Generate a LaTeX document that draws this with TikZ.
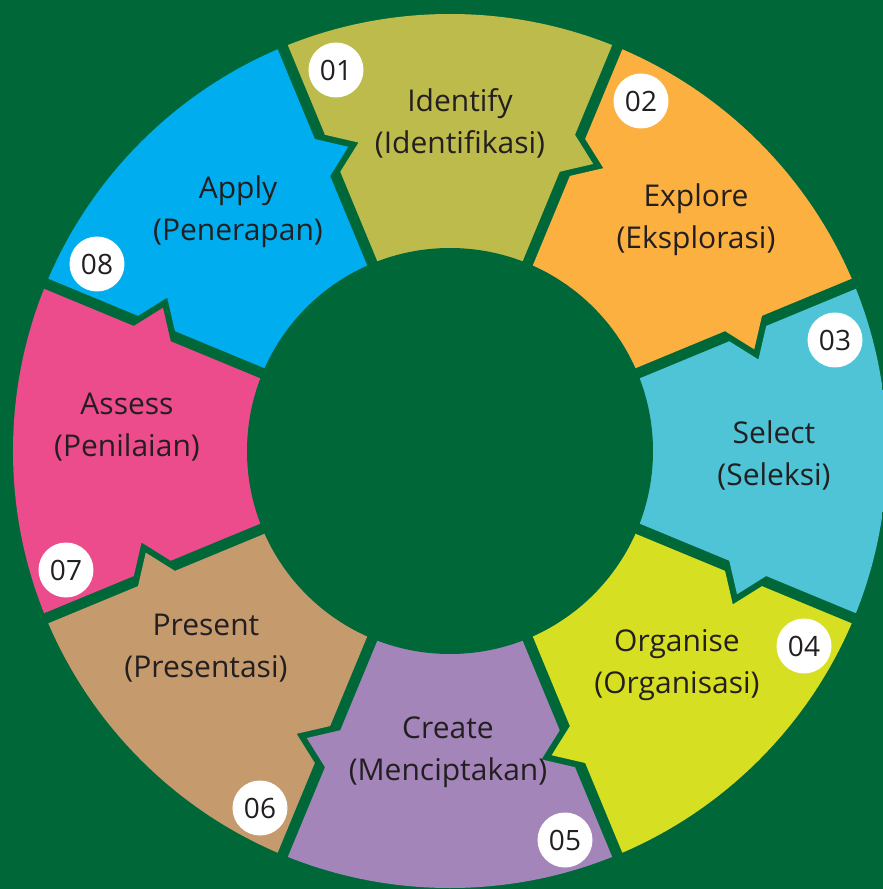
\documentclass[tikz,border=0pt]{standalone}
\usepackage{fontspec}
\setmainfont{Open Sans}
\definecolor{bg}{HTML}{006838}
\definecolor{c1}{HTML}{BDBB4C}
\definecolor{c2}{HTML}{FBB040}
\definecolor{c3}{HTML}{4EC4D6}
\definecolor{c4}{HTML}{D7DF23}
\definecolor{c5}{HTML}{A385BA}
\definecolor{c6}{HTML}{C59A6D}
\definecolor{c7}{HTML}{EC4C8C}
\definecolor{c8}{HTML}{00AEEF}
\definecolor{txt}{HTML}{231F20}
\tikzset{
  lbl/.style={align=center, text=txt, font=\fontsize{30}{42}\selectfont, inner sep=0pt},
  num/.style={circle, fill=white, minimum size=55pt, inner sep=0pt, text=txt, font=\fontsize{28}{28}\selectfont},
}
\begin{document}
\begin{tikzpicture}[x=1pt,y=1pt]
\fill[bg] (-450,-438) rectangle (433,451);
\useasboundingbox (-450,-438) rectangle (433,451);
\begin{scope}
\clip (0,0) circle (437);
\foreach \ang/\col in {90/c1, 45/c2, 0/c3, -45/c4, -90/c5, -135/c6, 180/c7, 135/c8}{
  \pgfmathsetmacro\ba{\ang-22.5}
  \pgfmathsetmacro\bb{\ang+22.5}
  \fill[\col]
    ({\ba+atan2(5.5,480)}:{veclen(480,5.5)}) --
    ({\ba+atan2(5.5,340)}:{veclen(340,5.5)}) --
    ({\ba+atan2(-22.5,320)}:{veclen(320,-22.5)}) --
    ({\ba+atan2(5.5,300)}:{veclen(300,5.5)}) --
    ({\ba+atan2(5.5,150)}:{veclen(150,5.5)}) --
    ({\bb+atan2(-5.5,150)}:{veclen(150,-5.5)}) --
    ({\bb+atan2(-5.5,300)}:{veclen(300,-5.5)}) --
    ({\bb+atan2(-33.5,320)}:{veclen(320,-33.5)}) --
    ({\bb+atan2(-5.5,340)}:{veclen(340,-5.5)}) --
    ({\bb+atan2(-5.5,480)}:{veclen(480,-5.5)}) -- cycle;
}
\end{scope}
\fill[bg] (0,0) circle (203);
\node[lbl] (l1) at (10,328) {Identify\\(Identifikasi)};
\node[lbl] (l2) at (246,231) {Explore\\(Eksplorasi)};
\node[lbl] (l3) at (324,-4) {Select\\(Seleksi)};
\node[lbl] (l4) at (227,-214) {Organise\\(Organisasi)};
\node[lbl] (l5) at (-2,-301) {Create\\(Menciptakan)};
\node[lbl] (l6) at (-244,-197) {Present\\(Presentasi)};
\node[lbl] (l7) at (-323,24) {Assess\\(Penilaian)};
\node[lbl] (l8) at (-212,239) {Apply\\(Penerapan)};
\node[num] (n1) at (-114,381) {01};
\node[num] (n2) at (191,350) {02};
\node[num] (n3) at (385,111) {03};
\node[num] (n4) at (354,-195) {04};
\node[num] (n5) at (115,-389) {05};
\node[num] (n6) at (-190,-357) {06};
\node[num] (n7) at (-384,-119) {07};
\node[num] (n8) at (-353,187) {08};
\end{tikzpicture}
\end{document}
